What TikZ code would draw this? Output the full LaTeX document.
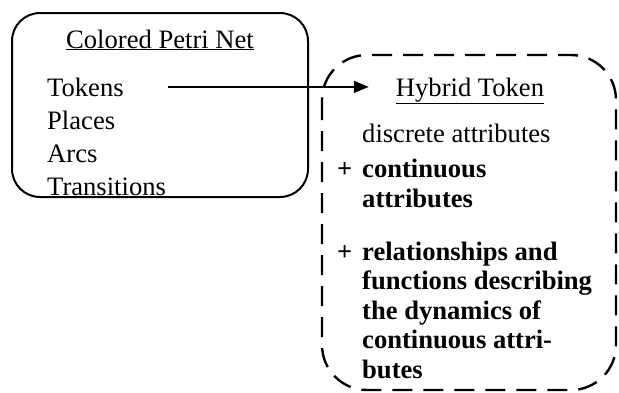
\documentclass[tikz,border=0pt]{standalone}
\usepackage{fontspec}
\setmainfont{Liberation Serif}
\usepackage{tikz}
\usetikzlibrary{arrows.meta}

\tikzset{
  txt/.style={inner sep=0pt,anchor=base west,font=\fontsize{26.6}{29.5}\selectfont},
  btxt/.style={txt,align=left,font=\fontsize{26.6}{29.5}\selectfont\bfseries},
  arr/.style={line width=1.6pt,-{Triangle[length=15pt,width=12pt]}}
}

\begin{document}
\begin{tikzpicture}[x=1pt,y=-1pt]
\useasboundingbox (0,0) rectangle (619,392);
% the two frames
\draw[line width=2pt,rounded corners=28pt] (12,13) rectangle (308,197);
\draw[line width=2.4pt,rounded corners=45pt,dash pattern=on 20pt off 11pt] (322,55) rectangle (616,390);
% colored petri net
\node[txt,anchor=base] (cpn) at (160,48) {\underline{Colored Petri Net}};
\node[txt] (tokens) at (47,96) {Tokens};
\node[txt] (places) at (47,129) {Places};
\node[txt] (arcs) at (47,162) {Arcs};
\node[txt] (trans) at (47,195) {Transitions};
% hybrid token (base of a multi-line node = its last line)
\node[txt,anchor=base] (ht) at (470,96) {\underline{Hybrid Token}};
\node[txt] (disc) at (362,142) {discrete attributes};
\node[btxt] (plusa) at (337,177) {+};
\node[btxt] (cont) at (362,207) {continuous\\attributes};
\node[btxt] (plusb) at (337,260) {+};
\node[btxt] (rel) at (362,378) {relationships and\\functions describing\\the dynamics of\\continuous attri-\\butes};
\draw[arr,shorten <=44pt,shorten >=27pt] (tokens.east) -- (tokens.east -| ht.west);
\end{tikzpicture}
\end{document}
